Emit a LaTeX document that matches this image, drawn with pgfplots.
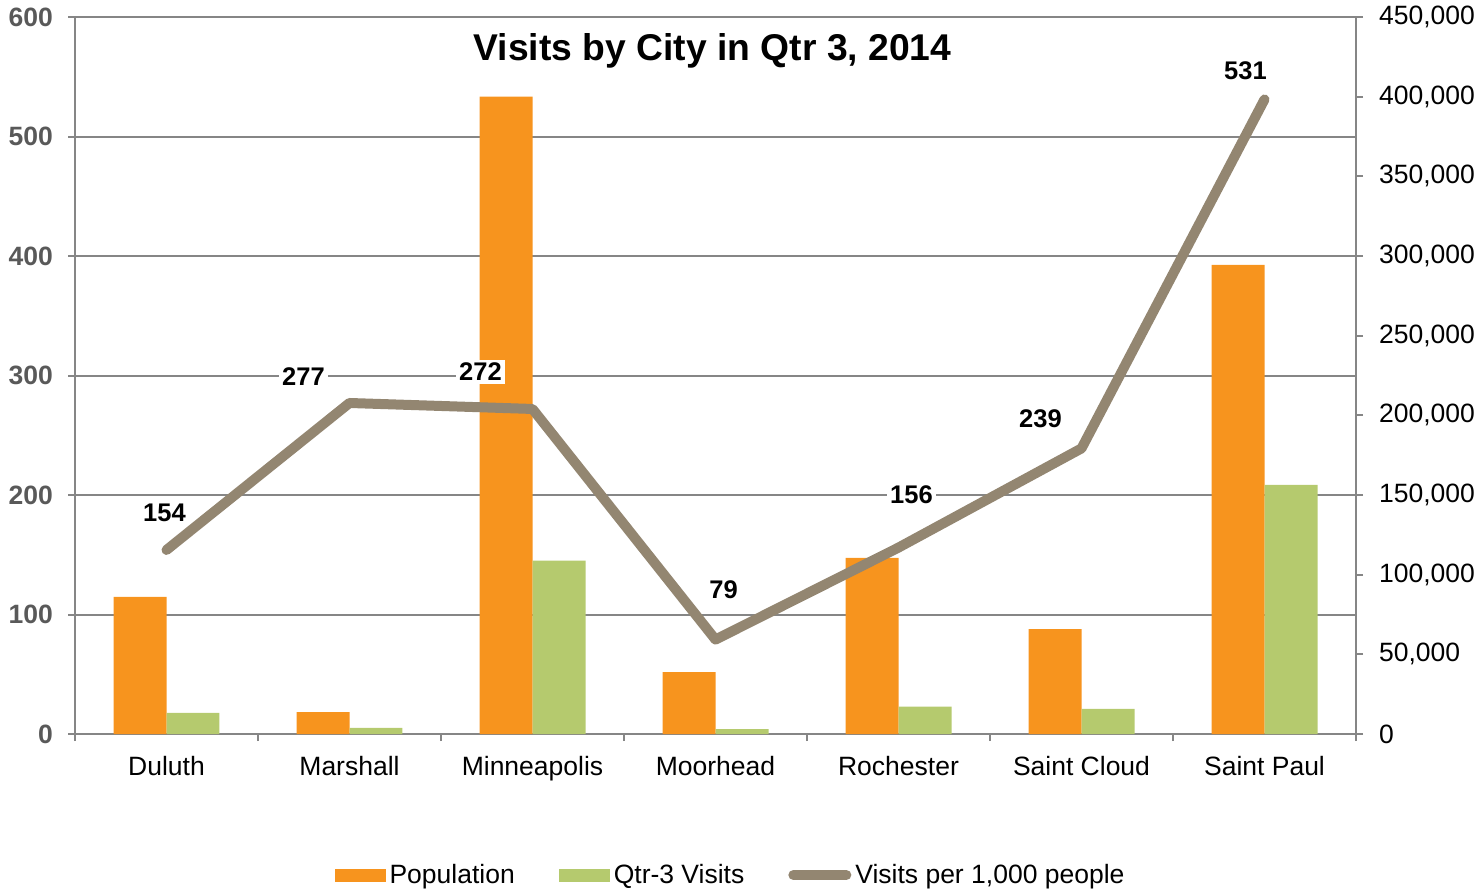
\documentclass[border=0pt]{standalone}
\usepackage{pgfplots}
\pgfplotsset{compat=1.18}
\usepackage{pgfplotstable}
\usepackage{fontspec}
\setmainfont{Liberation Sans}
\definecolor{popc}{RGB}{247,148,30}
\definecolor{visc}{RGB}{181,202,110}
\definecolor{linec}{RGB}{147,134,113}
\definecolor{gridc}{RGB}{134,134,134}
\definecolor{ltick}{RGB}{89,89,89}

\pgfplotstableread{
x pop vis rate dx dy
0 86000 13200 154 -1 18.5
1 13700 3800 277 -23 13
2 400000 108800 272 -26 18.5
3 38900 3100 79 4 25
4 110500 17200 156 6.5 26.5
5 65900 15800 239 -20.5 15
6 294400 156300 531 -9.5 14.5
}\data

\pgfplotsset{
  base/.style={
    at={(0,0)}, anchor=south west,
    scale only axis, width=640.5bp, height=358.5bp,
    xmin=-0.5, xmax=6.5,
    axis line style={gridc, line width=1bp},
    tick align=outside,
    major tick length=3.5bp, minor tick length=3.5bp,
    /pgf/number format/assume math mode=true,
    clip=false,
  }
}
\newcommand{\ft}{\fontsize{13.3}{15}\selectfont}

\begin{document}
\begin{tikzpicture}
\path[use as bounding box] (-37.5bp,-78.5bp) rectangle (702.5bp,367bp);

% Axis A: left scale, grid, categories
\begin{axis}[base,
  ymin=0, ymax=600, ytick={0,100,...,600},
  axis y line*=left, axis x line*=bottom,
  ymajorgrids, grid style={gridc, line width=1bp},
  ytick style={gridc, line width=1bp},
  yticklabel style={font=\ft\bfseries, text=ltick, xshift=-4bp},
  xtick={0,...,6},
  xticklabels={Duluth,Marshall,Minneapolis,Moorhead,Rochester,Saint Cloud,Saint Paul},
  xticklabel style={font=\ft, text=black, yshift=-4bp},
  minor xtick={-0.5,0.5,...,6.5},
  major x tick style={draw=none},
  minor x tick style={gridc, line width=1bp},
]
\addplot[draw=none, forget plot] coordinates {(0,0)};
\node[font=\fontsize{18.7}{22}\selectfont\bfseries, anchor=base] at (rel axis cs:0.5,1) [yshift=-21.5bp, xshift=-1.5bp] {Visits by City in Qtr 3, 2014};
\end{axis}

% Axis B: right scale, bars, legend
\begin{axis}[base,
  ymin=0, ymax=450000, ytick={0,50000,...,450000},
  scaled y ticks=false,
  axis y line*=right, axis x line=none,
  ytick style={gridc, line width=1bp},
  yticklabel style={font=\ft, text=black, xshift=4.5bp,
    /pgf/number format/.cd, fixed, 1000 sep={,}},
  legend columns=3,
  legend style={at={(0.5125,-0.1967)}, anchor=center, draw=none, fill=none,
    font=\ft, inner sep=0pt,
    /tikz/every even column/.append style={column sep=20bp},
    nodes={inner xsep=2bp, inner ysep=1bp}},
  legend cell align=left,
]
\addplot[ybar, bar width=0.2896, bar shift=-0.1448, fill=popc, draw=none,
  legend image code/.code={\fill[popc] (0bp,-3.25bp) rectangle (25.5bp,3.25bp);}]
  table[x=x, y=pop]{\data};
\addlegendentry{Population}
\addplot[ybar, bar width=0.2896, bar shift=0.1448, fill=visc, draw=none,
  legend image code/.code={\fill[visc] (0bp,-3.25bp) rectangle (25.5bp,3.25bp);}]
  table[x=x, y=vis]{\data};
\addlegendentry{Qtr-3 Visits}
\addlegendimage{legend image code/.code={\draw[linec, line width=5bp, line cap=round] (2.5bp,0) -- (29bp,0);}}
\addlegendentry{Visits per 1,000 people}
\end{axis}

% Axis C: line on left scale
\begin{axis}[base,
  ymin=0, ymax=600, hide axis,
]
\addplot[linec, line width=5bp, line cap=round, line join=round,
  nodes near coords,
  point meta=explicit,
  visualization depends on={\thisrow{dx}\as\mydx},
  visualization depends on={\thisrow{dy}\as\mydy},
  every node near coord/.append style={anchor=center, fill=white, inner sep=1.5bp,
    font=\fontsize{12.8}{14}\selectfont\bfseries, text=black,
    xshift=\mydx bp, yshift=\mydy bp},
] table[x=x, y=rate, meta=rate]{\data};
\end{axis}
\end{tikzpicture}
\end{document}
